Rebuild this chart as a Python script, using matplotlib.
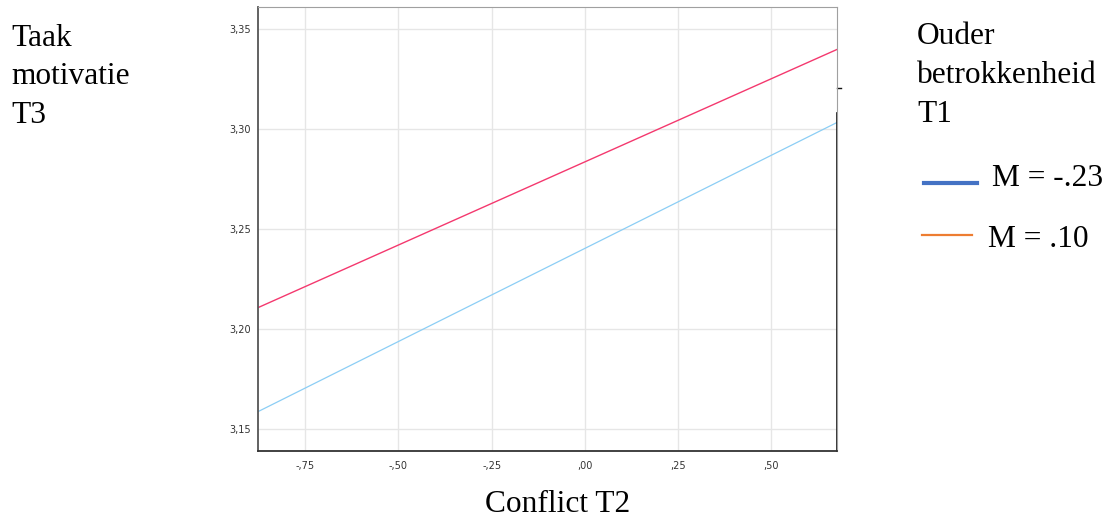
import numpy as np
import matplotlib.pyplot as plt

# data
conflict = [-0.8775, 0.677]
motivatie_hoog = [3.2108, 3.3400]   # pink line
motivatie_laag = [3.1588, 3.3035]   # light blue line

xticks = [-0.75, -0.50, -0.25, 0.00, 0.25, 0.50]
xtick_labels = ['-,75', '-,50', '-,25', ',00', ',25', ',50']
yticks = [3.15, 3.20, 3.25, 3.30, 3.35]
ytick_labels = ['3,15', '3,20', '3,25', '3,30', '3,35']

legend_labels = ['M = -.23', 'M = .10']
legend_colors = ['#4472C4', '#ED7D31']

W, H = 1110, 517
fig = plt.figure(figsize=(W / 100, H / 100), dpi=100)
ax = fig.add_axes([257.7 / W, 66 / H, (837.3 - 257.7) / W, (510.3 - 66) / H])

ax.plot(conflict, motivatie_hoog, color='#F4386E', lw=1.0)
ax.plot(conflict, motivatie_laag, color='#8CCEF5', lw=0.9)

ax.set_xlim(conflict[0], conflict[1])
ax.set_ylim(3.1392, 3.3613)
ax.set_xticks(xticks)
ax.set_xticklabels(xtick_labels)
ax.set_yticks(yticks)
ax.set_yticklabels(ytick_labels)
ax.tick_params(length=0, labelsize=7, labelcolor='#333333', pad=5)
ax.tick_params(axis='x', pad=7)
ax.grid(True, color='#e6e6e6', lw=1)
ax.set_axisbelow(True)

ax.spines['top'].set_color('#a0a0a0')
ax.spines['right'].set_color('#a0a0a0')
ax.spines['left'].set_color('#555555')
ax.spines['bottom'].set_color('#333333')
ax.spines['left'].set_linewidth(1.3)
ax.spines['bottom'].set_linewidth(1.3)
# darker lower part of the right frame, as in the pasted picture
ax.plot([1, 1], [0, (451 - 113) / (451 - 6.7)], transform=ax.transAxes,
        color='#111111', lw=1.2, clip_on=False)
ax.plot([1, 1.006], [(451 - 88) / (451 - 6.7)] * 2, transform=ax.transAxes,
        color='#111111', lw=1, clip_on=False)

serif = dict(family='Liberation Serif', fontsize=22.6, color='black', va='baseline')

for i, line in enumerate(['Taak', 'motivatie', 'T3']):
    fig.text(11 / W, 1 - (45.7 + i * 38.8) / H, line, ha='left', **serif)

for i, line in enumerate(['Ouder', 'betrokkenheid', 'T1']):
    fig.text(917 / W, 1 - (44.3 + i * 38.7) / H, line, ha='left', **serif)

fig.text(557.5 / W, 1 - 511.5 / H, 'Conflict T2', ha='center', **serif)

# hand-made legend
leg_lines = [(924, 976.7, 182.7, 3.0, 991.7, 185.5), (922, 971.7, 235, 1.6, 988, 246.7)]
for (x0, x1, y, lw, tx, ty), lab, col in zip(leg_lines, legend_labels, legend_colors):
    fig.add_artist(plt.Line2D([x0 / W, x1 / W], [1 - y / H] * 2, color=col, lw=lw))
    fig.text(tx / W, 1 - ty / H, lab, ha='left', **serif)

fig.savefig('out.png', dpi=100)
